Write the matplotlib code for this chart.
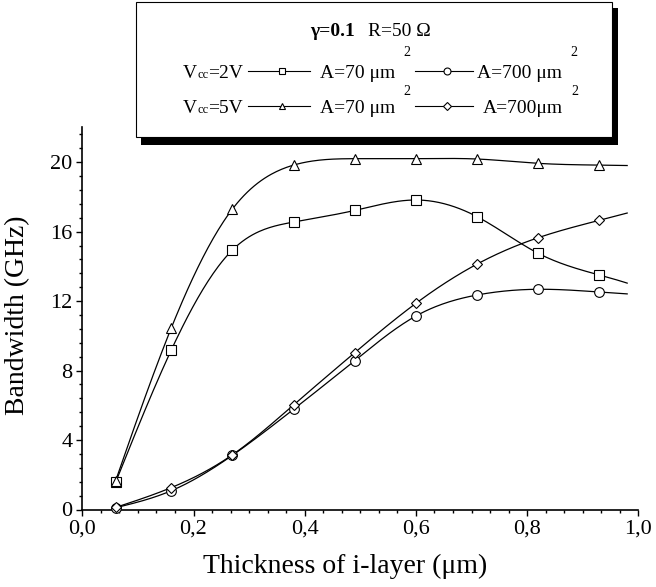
import numpy as np
import matplotlib
matplotlib.use('Agg')
import matplotlib.pyplot as plt
from matplotlib.lines import Line2D
from matplotlib.patches import Rectangle
from matplotlib.ticker import MultipleLocator, AutoMinorLocator, FuncFormatter

plt.rcParams['font.family'] = ['Liberation Serif', 'DejaVu Serif']

# data
thickness = [0.06, 0.16, 0.27, 0.38, 0.49, 0.60, 0.71, 0.82, 0.93]
bw_2v_70 = [1.57, 9.18, 14.94, 16.55, 17.22, 17.82, 16.86, 14.75, 13.50]
bw_5v_70 = [1.66, 10.45, 17.30, 19.83, 20.20, 20.20, 20.18, 19.93, 19.83]
bw_2v_700 = [0.10, 1.08, 3.12, 5.77, 8.57, 11.14, 12.35, 12.68, 12.52]
bw_5v_700 = [0.12, 1.26, 3.15, 6.02, 9.03, 11.87, 14.13, 15.65, 16.65]
x_end = 0.98

W, H = 656, 587


def spline(x, y, xs):
    # natural cubic spline, last piece carried on past the last point
    x = np.asarray(x, float)
    y = np.asarray(y, float)
    n = len(x)
    h = np.diff(x)
    A = np.zeros((n, n))
    b = np.zeros(n)
    A[0, 0] = A[-1, -1] = 1
    for i in range(1, n - 1):
        A[i, i - 1] = h[i - 1]
        A[i, i] = 2 * (h[i - 1] + h[i])
        A[i, i + 1] = h[i]
        b[i] = 6 * ((y[i + 1] - y[i]) / h[i] - (y[i] - y[i - 1]) / h[i - 1])
    M = np.linalg.solve(A, b)
    k = np.clip(np.searchsorted(x, xs) - 1, 0, n - 2)
    t0 = xs - x[k]
    t1 = x[k + 1] - xs
    hk = h[k]
    return ((M[k] * t1 ** 3 + M[k + 1] * t0 ** 3) / (6 * hk)
            + (y[k] / hk - M[k] * hk / 6) * t1
            + (y[k + 1] / hk - M[k + 1] * hk / 6) * t0)


def px(x):
    return x / W


def py(y):
    return 1 - y / H


fig = plt.figure(figsize=(W / 100, H / 100), dpi=100)
ax = fig.add_axes([px(82.3), py(509.5), 556 / W, (509.5 - 127.4) / H])

series = [(bw_2v_70, 's'), (bw_5v_70, '^'), (bw_2v_700, 'o'), (bw_5v_700, 'D')]
xs = np.linspace(thickness[0], x_end, 300)
for vals, m in series:
    ax.plot(xs, spline(thickness, vals, xs), color='black', lw=0.9, zorder=2)
for vals, m in series:
    ms = 5.5 if m == 'D' else 7
    ax.plot(thickness, vals, ls='none', marker=m, ms=ms, mfc='white',
            mec='black', mew=0.8, zorder=3, clip_on=False)

ax.set_xlim(0, 1.0)
ax.set_ylim(0, 22)
ax.xaxis.set_major_locator(MultipleLocator(0.2))
ax.xaxis.set_minor_locator(AutoMinorLocator(6))
ax.yaxis.set_major_locator(MultipleLocator(4))
ax.yaxis.set_minor_locator(AutoMinorLocator(5))
ax.xaxis.set_major_formatter(FuncFormatter(lambda v, p: f"{v:.1f}".replace('.', ',')))
ax.yaxis.set_major_formatter(FuncFormatter(lambda v, p: f"{v:.0f}"))
for s in ['top', 'right']:
    ax.spines[s].set_visible(False)
for s in ['left', 'bottom']:
    ax.spines[s].set_linewidth(1.2)
ax.tick_params(which='major', direction='out', length=4.5, width=1.0, labelsize=16, pad=2.5)
ax.tick_params(which='minor', direction='out', length=2.5, width=1.0)

fig.text(px(345), py(566), 'Thickness of i-layer (\u03bcm)', fontsize=20,
         ha='center', va='center')
fig.text(px(18), py(315), 'Bandwidth (GHz)', fontsize=20, rotation=90,
         ha='center', va='center')

# legend box with shadow
fig.patches.append(Rectangle((px(141), py(145)), (618 - 141) / W, (145 - 8) / H,
                             transform=fig.transFigure, facecolor='black',
                             edgecolor='none', zorder=5))
fig.patches.append(Rectangle((px(136), py(137)), (612 - 136) / W, (137 - 2) / H,
                             transform=fig.transFigure, facecolor='white',
                             edgecolor='black', lw=0.8, zorder=6))

renderer = fig.canvas.get_renderer()


def chain(x, y, pieces):
    for s, size, weight, dy in pieces:
        t = fig.text(px(x), py(y + dy), s, fontsize=size, fontweight=weight,
                     ha='left', va='baseline', zorder=7)
        x = t.get_window_extent(renderer).x1
    return x


def key(x0, x1, y, m):
    ms = 4 if m == 'D' else 5
    fig.lines.append(Line2D([px(x0), px(x1)], [py(y), py(y)], transform=fig.transFigure,
                            color='black', lw=0.8, zorder=7))
    fig.lines.append(Line2D([px((x0 + x1) / 2 + 3)], [py(y)], transform=fig.transFigure,
                            ls='none', marker=m, ms=ms, mfc='white', mec='black',
                            mew=0.8, zorder=8))


chain(310, 36, [('\u03b3=0.1', 14, 'bold', 0)])
chain(368, 36, [('R=50 \u03a9', 14, 'normal', 0)])

rows = [(78, '2V', 's', 'o', 'A=700 \u03bcm', 56),
        (113, '5V', '^', 'D', 'A=700\u03bcm', 95)]
for yb, volt, m1, m2, right_txt, ysup in rows:
    chain(183, yb, [('V', 14, 'normal', 0), ('cc', 9, 'normal', 0),
                    ('=' + volt, 14, 'normal', 0)])
    key(248, 310, yb - 7, m1)
    end = chain(320, yb, [('A=70 \u03bcm', 14, 'normal', 0)])
    chain(end + 8, ysup, [('2', 10, 'normal', 0)])
    key(415, 473, yb - 7, m2)
    end = chain(477 if m2 == 'o' else 483, yb, [(right_txt, 14, 'normal', 0)])
    chain(end + 8, ysup, [('2', 10, 'normal', 0)])

fig.savefig('out.png', dpi=100)
